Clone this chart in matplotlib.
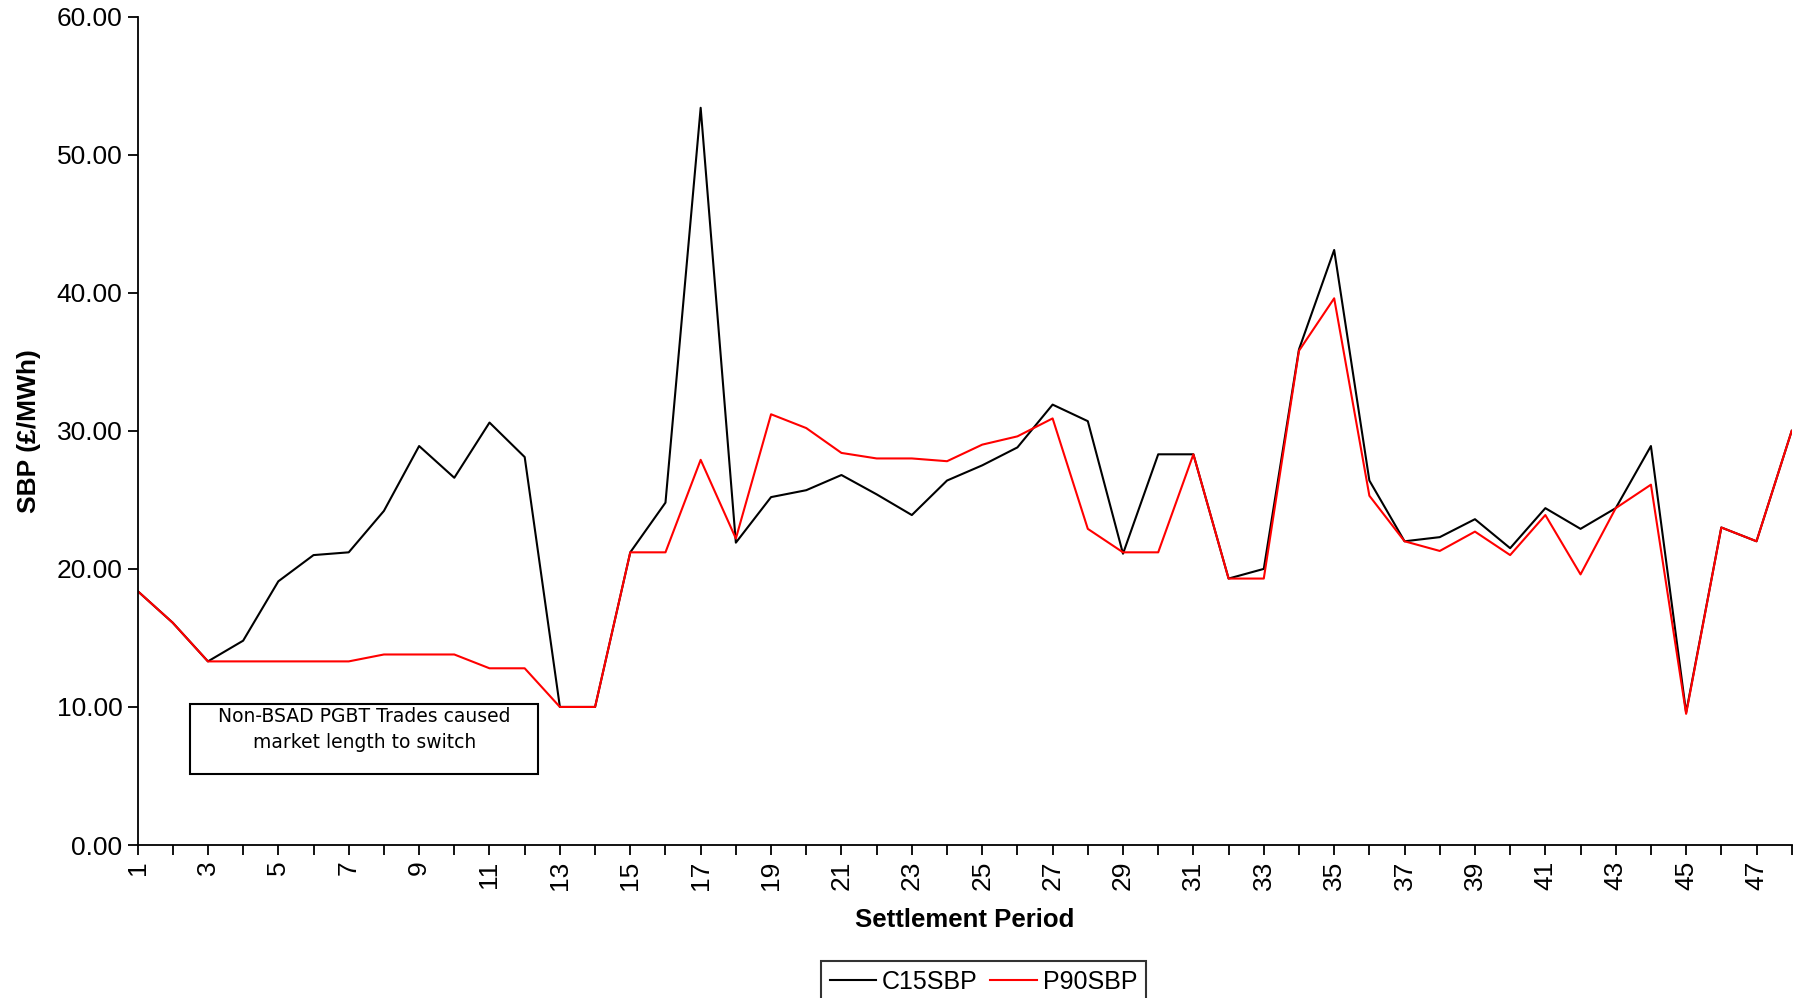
import matplotlib
matplotlib.use("Agg")
from matplotlib import pyplot as plt
from matplotlib.patches import Rectangle

plt.rcParams['font.family'] = ['Liberation Sans', 'DejaVu Sans']

periods = list(range(1, 49))
c15sbp = [18.4, 16.1, 13.3, 14.8, 19.1, 21.0, 21.2, 24.2, 28.9, 26.6,
          30.6, 28.1, 10.0, 10.0, 21.2, 24.8, 53.4, 21.9, 25.2, 25.7,
          26.8, 25.4, 23.9, 26.4, 27.5, 28.8, 31.9, 30.7, 21.1, 28.3,
          28.3, 19.3, 20.0, 35.9, 43.1, 26.4, 22.0, 22.3, 23.6, 21.5,
          24.4, 22.9, 24.4, 28.9, 9.6, 23.0, 22.0, 30.0]
p90sbp = [18.4, 16.1, 13.3, 13.3, 13.3, 13.3, 13.3, 13.8, 13.8, 13.8,
          12.8, 12.8, 10.0, 10.0, 21.2, 21.2, 27.9, 22.2, 31.2, 30.2,
          28.4, 28.0, 28.0, 27.8, 29.0, 29.6, 30.9, 22.9, 21.2, 21.2,
          28.3, 19.3, 19.3, 35.8, 39.6, 25.3, 22.0, 21.3, 22.7, 21.0,
          23.9, 19.6, 24.4, 26.1, 9.5, 23.0, 22.0, 30.0]
yticks = [0, 10, 20, 30, 40, 50, 60]
note = "Non-BSAD PGBT Trades caused\nmarket length to switch"

fig = plt.figure(figsize=(17.98, 9.98), dpi=100)
ax = fig.add_axes([0.0765, 0.1533, 0.920, 0.830])

l1, = ax.plot(periods, c15sbp, color='black', lw=1.5, label='C15SBP')
l2, = ax.plot(periods, p90sbp, color='#ff0000', lw=1.5, label='P90SBP')

ax.set_xlim(1, 48)
ax.set_ylim(0, 60)
ax.set_yticks(yticks)
ax.set_yticklabels(["%.2f" % v for v in yticks])
ax.set_xticks(periods)
ax.set_xticklabels([str(p) if p % 2 == 1 else "" for p in periods], rotation=90)
ax.tick_params(axis='both', direction='out', length=7, width=1.3, labelsize=19, pad=4)

for s in ['top', 'right']:
    ax.spines[s].set_visible(False)
for s in ['left', 'bottom']:
    ax.spines[s].set_linewidth(1.3)

ax.set_xlabel("Settlement Period", fontsize=18.5, fontweight='bold', va='center')
ax.xaxis.set_label_coords(0.5, -0.0906)
ax.set_ylabel("SBP (£/MWh)", fontsize=19, fontweight='bold', va='center')
ax.yaxis.set_label_coords(-0.0658, 0.5)

# annotation box
ax.add_patch(Rectangle((0.0317, 0.0858), 0.2103, 0.0842, transform=ax.transAxes,
                       fill=False, edgecolor='black', lw=1.5, clip_on=False))
ax.text(0.137, 0.139, note, transform=ax.transAxes, ha='center', va='center',
        fontsize=13.5, family='DejaVu Sans', linespacing=1.45)

leg = fig.legend(handles=[l1, l2], loc='upper center', bbox_to_anchor=(0.547, 0.037),
                 borderaxespad=0, ncol=2, fontsize=18, frameon=True, fancybox=False,
                 handlelength=1.85, handletextpad=0.25, columnspacing=0.5, borderpad=0.35)
leg.get_frame().set_edgecolor('black')
leg.get_frame().set_linewidth(1.5)

fig.savefig("out.png", dpi=100)
